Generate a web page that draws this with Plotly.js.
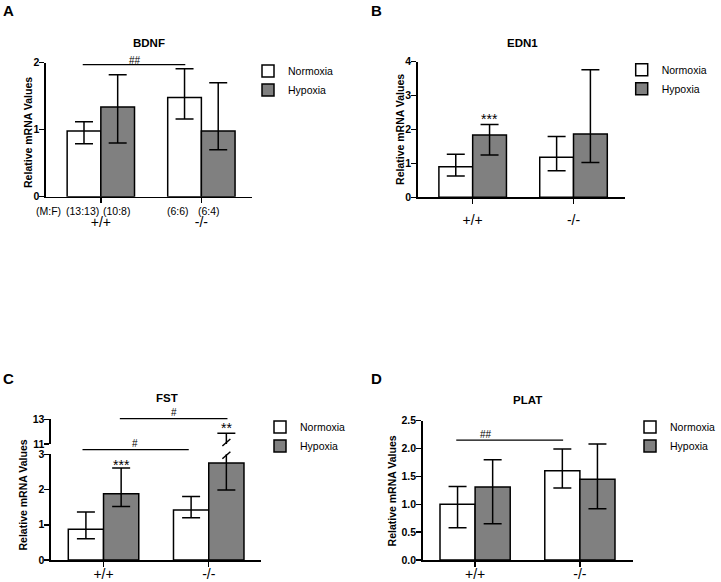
<!DOCTYPE html>
<html>
<head>
<meta charset="utf-8">
<script src="https://cdn.plot.ly/plotly-3.0.1.min.js"></script>
<style>html,body{margin:0;padding:0;background:#fff}#chart{width:721px;height:582px}</style>
</head>
<body>
<div id="chart"></div>
<script>
// ---------- data ----------
const genotypes = ['+/+', '-/-'];
const seriesNames = ['Normoxia', 'Hypoxia'];

// BDNF (panel A): mean, upper end of error bar, lower end of error bar
const bdnfNorm = [0.98, 1.48], bdnfNormHi = [1.12, 1.91], bdnfNormLo = [0.79, 1.16];
const bdnfHyp = [1.34, 0.98], bdnfHypHi = [1.82, 1.70], bdnfHypLo = [0.80, 0.70];
// EDN1 (panel B)
const edn1Norm = [0.90, 1.18], edn1NormHi = [1.27, 1.79], edn1NormLo = [0.63, 0.78];
const edn1Hyp = [1.84, 1.87], edn1HypHi = [2.15, 3.76], edn1HypLo = [1.25, 1.03];
// FST (panel C, broken axis)
const fstNorm = [0.87, 1.42], fstNormHi = [1.36, 1.80], fstNormLo = [0.60, 1.20];
const fstHyp = [1.88, 2.75], fstHypHi = [2.61, 11.87], fstHypLo = [1.52, 1.99];
// PLAT (panel D)
const platNorm = [1.00, 1.60], platNormHi = [1.32, 1.99], platNormLo = [0.58, 1.29];
const platHyp = [1.31, 1.45], platHypHi = [1.80, 2.08], platHypLo = [0.65, 0.92];

// sex ratio labels under panel A (label, category position)
const sexRatioLabels = ['(M:F)', '(13:13)', '(10:8)', '(6:6)', '(6:4)'];
const sexRatioPos = [-0.52, -0.18, 0.16, 0.77, 1.08];

// significance brackets: [xStart, xEnd, height]
const bdnfBracket = [-0.18, 0.84, 1.97];
const platBracket = [-0.18, 0.84, 2.15];
const fstBracketLow = [-0.2, 0.81, 3.13];
const fstBracketHigh = [0.155, 1.178, 13.05];

const panelTitles = ['BDNF', 'EDN1', 'FST', 'PLAT'];
const panelLetters = ['A', 'B', 'C', 'D'];
const yTitle = 'Relative mRNA Values';

// axis ranges
const rangeA = [0, 2], rangeB = [0, 4], rangeCLow = [0, 3], rangeCHigh = [11, 13], rangeD = [0, 2.5];

// ---------- layout helpers ----------
const W = 721, H = 582;
const px = v => v / W;
const py = v => 1 - v / H;
const dom = (v, r) => (v - r[0]) / (r[1] - r[0]);
const BARGAP = 0.33;
const HYP_OFF = (1 - BARGAP) / 4;
const FONT = 'Liberation Sans, Arial, Helvetica, sans-serif';
const HYP_COLOR = '#808080';

function errs(v, hi, lo) {
  return {type: 'data', symmetric: false,
    array: hi.map((h, i) => h - v[i]),
    arrayminus: lo.map((l, i) => v[i] - l),
    color: '#000', thickness: 1.5, width: 9};
}
function pair(xa, ya, norm, nHi, nLo, hyp, hHi, hLo, legend, showlegend) {
  return [
    {type: 'bar', name: seriesNames[0], x: genotypes, y: norm, xaxis: xa, yaxis: ya,
     marker: {color: '#ffffff', line: {color: '#000', width: 1.5}},
     error_y: errs(norm, nHi, nLo), legend: legend, showlegend: showlegend, hoverinfo: 'skip'},
    {type: 'bar', name: seriesNames[1], x: genotypes, y: hyp, xaxis: xa, yaxis: ya,
     marker: {color: HYP_COLOR, line: {color: '#000', width: 1.5}},
     error_y: errs(hyp, hHi, hLo), legend: legend, showlegend: showlegend, hoverinfo: 'skip'}
  ];
}

const data = [].concat(
  pair('x', 'y', bdnfNorm, bdnfNormHi, bdnfNormLo, bdnfHyp, bdnfHypHi, bdnfHypLo, 'legend', true),
  pair('x2', 'y2', edn1Norm, edn1NormHi, edn1NormLo, edn1Hyp, edn1HypHi, edn1HypLo, 'legend2', true),
  pair('x3', 'y3', fstNorm, fstNormHi, fstNormLo, fstHyp, fstHypHi, fstHypLo, 'legend3', true),
  pair('x3', 'y5', fstNorm, fstNormHi, fstNormLo, fstHyp, fstHypHi, fstHypLo, 'legend3', false),
  pair('x4', 'y4', platNorm, platNormHi, platNormLo, platHyp, platHypHi, platHypLo, 'legend4', true)
);

const axBase = {showline: true, linecolor: '#000', linewidth: 1.5, ticks: 'outside',
  ticklen: 5, tickwidth: 1.5, tickcolor: '#000', showgrid: false, zeroline: false,
  automargin: false, fixedrange: true};
const xTickFont = {family: FONT, size: 14, color: '#000'};
const yTickFont = {family: FONT, size: 10.5, color: '#000', weight: 'bold'};

function xAx(l, r, range, anchor, standoff) {
  return Object.assign({}, axBase, {domain: [px(l), px(r)], range: range, anchor: anchor,
    type: 'category', tickfont: xTickFont, ticklabelstandoff: standoff});
}
function yAx(bottom, top, range, anchor, extra) {
  return Object.assign({}, axBase, {domain: [py(bottom), py(top)], range: range, anchor: anchor,
    tickfont: yTickFont, ticklabelstandoff: -2}, extra || {});
}

const legBase = {xanchor: 'left', yanchor: 'top', bgcolor: 'rgba(0,0,0,0)',
  font: {family: FONT, size: 10.5, color: '#000'}, tracegroupgap: 0, itemclick: false, itemdoubleclick: false};

const annFont = {family: FONT, size: 10.5, color: '#000'};
const hashFont = {family: FONT, size: 10, color: '#000'};
const starFont = {family: FONT, size: 14, color: '#000'};
const annotations = [];
function ann(o) { annotations.push(Object.assign({showarrow: false, xanchor: 'center', yanchor: 'middle'}, o)); }
// panel letters and titles
const letterPos = [[9, 10], [377, 10], [9, 378.5], [377, 378.5]];
const titlePos = [[149, 43], [523, 43], [167.5, 398], [528, 399.5]];
panelLetters.forEach((t, i) => ann({text: t, xref: 'paper', yref: 'paper',
  x: px(letterPos[i][0]), y: py(letterPos[i][1]),
  font: {family: FONT, size: 15, weight: 'bold', color: '#000'}}));
panelTitles.forEach((t, i) => ann({text: t, xref: 'paper', yref: 'paper',
  x: px(titlePos[i][0]), y: py(titlePos[i][1]),
  font: {family: FONT, size: 11.5, weight: 'bold', color: '#000'}}));
// y axis titles
const yTitlePos = [[28, 132], [400.5, 129], [23.5, 495], [393, 491]];
yTitlePos.forEach(p => ann({text: yTitle, xref: 'paper', yref: 'paper',
  x: px(p[0]), y: py(p[1]), textangle: -90,
  font: {family: FONT, size: 10.5, weight: 'bold', color: '#000'}}));
// sex ratio labels
sexRatioLabels.forEach((t, i) => ann({text: t, xref: 'x', yref: 'y domain',
  x: sexRatioPos[i], y: dom(-0.21, rangeA), font: annFont}));
// significance marks
ann({text: '##', xref: 'x', yref: 'y domain', x: 0.344, y: dom(2.03, rangeA), font: hashFont});
ann({text: '***', xref: 'x2', yref: 'y2 domain', x: HYP_OFF, y: dom(2.30, rangeB), font: starFont});
ann({text: '***', xref: 'x3', yref: 'y3 domain', x: HYP_OFF, y: dom(2.69, rangeCLow), font: starFont});
ann({text: '**', xref: 'x3', yref: 'y5 domain', x: 1 + HYP_OFF, y: dom(12.32, rangeCHigh), font: starFont});
ann({text: '#', xref: 'x3', yref: 'y3 domain', x: 0.30, y: dom(3.32, rangeCLow), font: hashFont});
ann({text: '#', xref: 'x3', yref: 'y5 domain', x: 0.668, y: dom(13.54, rangeCHigh), font: hashFont});
ann({text: '##', xref: 'x4', yref: 'y4 domain', x: 0.105, y: dom(2.26, rangeD), font: hashFont});

const lineStyle = {color: '#000', width: 1.2};
const shapes = [
  {type: 'line', xref: 'x', yref: 'y', x0: bdnfBracket[0], x1: bdnfBracket[1], y0: bdnfBracket[2], y1: bdnfBracket[2], line: lineStyle},
  {type: 'line', xref: 'x4', yref: 'y4', x0: platBracket[0], x1: platBracket[1], y0: platBracket[2], y1: platBracket[2], line: lineStyle},
  {type: 'line', xref: 'x3', yref: 'y3 domain', x0: fstBracketLow[0], x1: fstBracketLow[1],
   y0: dom(fstBracketLow[2], rangeCLow), y1: dom(fstBracketLow[2], rangeCLow), line: lineStyle},
  {type: 'line', xref: 'x3', yref: 'y5 domain', x0: fstBracketHigh[0], x1: fstBracketHigh[1],
   y0: dom(fstBracketHigh[2], rangeCHigh), y1: dom(fstBracketHigh[2], rangeCHigh), line: lineStyle},
  // break slashes on the broken error bar
  {type: 'line', xref: 'x3', yref: 'y3 domain', xsizemode: 'pixel', ysizemode: 'pixel',
   xanchor: 1 + HYP_OFF, yanchor: 1, x0: -4, x1: 4, y0: -4.5, y1: 2.5, line: {color: '#000', width: 1.5}},
  {type: 'line', xref: 'x3', yref: 'y5 domain', xsizemode: 'pixel', ysizemode: 'pixel',
   xanchor: 1 + HYP_OFF, yanchor: 0, x0: -4, x1: 4, y0: -2, y1: 5, line: {color: '#000', width: 1.5}}
];

const layout = {
  width: W, height: H,
  margin: {l: 0, r: 0, t: 0, b: 0},
  paper_bgcolor: '#fff', plot_bgcolor: 'rgba(0,0,0,0)',
  font: {family: FONT, color: '#000'},
  barmode: 'group', bargap: BARGAP, bargroupgap: 0,
  xaxis: xAx(46, 252, [-0.546, 1.5], 'y', 7),
  yaxis: yAx(196.7, 62.7, rangeA, 'x', {dtick: 1}),
  xaxis2: xAx(418.3, 625.7, [-0.545, 1.509], 'y2', 4),
  yaxis2: yAx(197.3, 61.7, rangeB, 'x2', {dtick: 1}),
  xaxis3: xAx(51, 261.7, [-0.5, 1.5], 'y3', -4),
  yaxis3: yAx(560, 454.3, rangeCLow, 'x3', {dtick: 1}),
  yaxis5: yAx(444, 419.3, rangeCHigh, 'x3', {tickvals: [11, 13]}),
  xaxis4: xAx(423.3, 634, [-0.5, 1.508], 'y4', -4),
  yaxis4: yAx(560, 420.7, rangeD, 'x4', {dtick: 0.5, tickformat: '.1f'}),
  legend: Object.assign({}, legBase, {x: px(248), y: py(56.5)}),
  legend2: Object.assign({}, legBase, {x: px(621.7), y: py(55.2)}),
  legend3: Object.assign({}, legBase, {x: px(260), y: py(412.5)}),
  legend4: Object.assign({}, legBase, {x: px(630.7), y: py(412.5)}),
  annotations: annotations,
  shapes: shapes,
  showlegend: true
};

Plotly.newPlot('chart', data, layout, {staticPlot: true, displayModeBar: false});
</script>
</body>
</html>
